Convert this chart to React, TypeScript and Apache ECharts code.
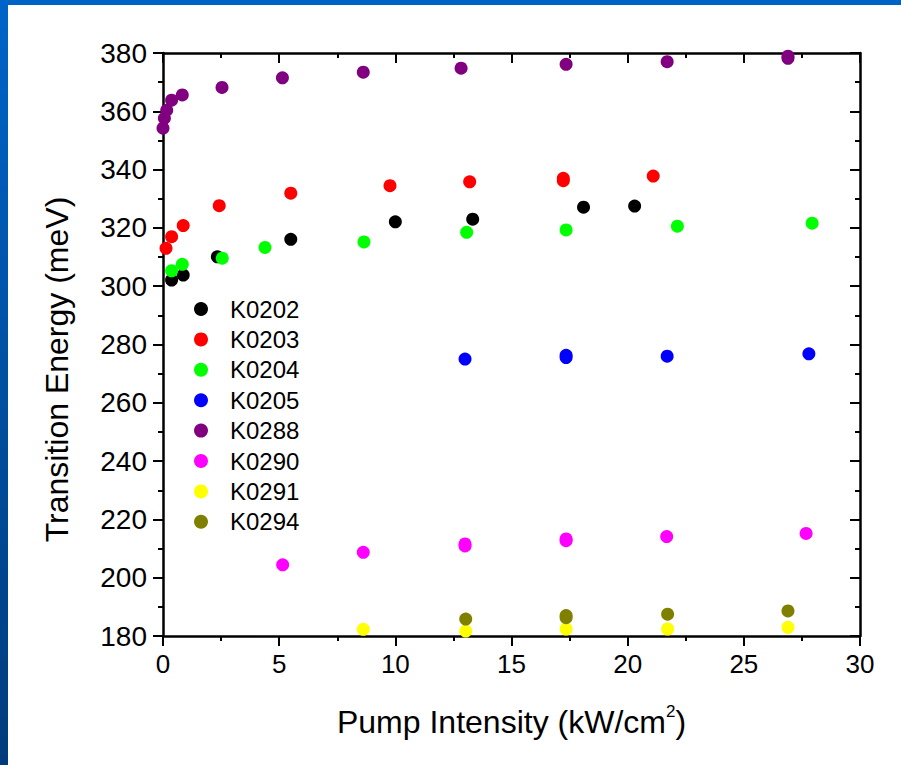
import React, { useEffect, useRef } from "react";
import * as echarts from "echarts";

const seriesNames = ["K0202", "K0203", "K0204", "K0205", "K0288", "K0290", "K0291", "K0294"];
const seriesColors = ["#000000", "#ff0000", "#00ff00", "#0000ff", "#800080", "#ff00ff", "#ffff00", "#808000"];

const k0202 = [[0.37, 302.1], [0.87, 303.8], [2.34, 310.1], [5.5, 316.1], [10.0, 322.1], [13.33, 323.0], [18.1, 327.1], [20.3, 327.5]];
const k0203 = [[0.13, 313.0], [0.37, 317.0], [0.87, 320.8], [2.42, 327.6], [5.5, 331.9], [9.77, 334.5], [13.2, 335.8], [17.23, 336.2], [17.23, 337.0], [21.1, 337.8]];
const k0204 = [[0.37, 305.3], [0.83, 307.5], [2.55, 309.6], [4.39, 313.3], [8.65, 315.2], [13.07, 318.5], [17.35, 319.3], [22.14, 320.6], [27.94, 321.6]];
const k0205 = [[13.0, 275.0], [17.35, 275.5], [17.35, 276.3], [21.7, 276.0], [27.8, 276.8]];
const k0288 = [[0.0, 354.2], [0.06, 357.6], [0.16, 360.4], [0.37, 363.8], [0.83, 365.6], [2.54, 368.2], [5.14, 371.5], [8.62, 373.4], [12.83, 374.8], [17.35, 376.1], [21.7, 377.0], [26.9, 378.2], [26.9, 378.9]];
const k0290 = [[5.15, 204.4], [8.62, 208.7], [13.0, 210.9], [13.0, 211.6], [17.35, 212.7], [17.35, 213.3], [21.68, 214.1], [27.68, 215.2]];
const k0291 = [[8.62, 182.3], [13.03, 181.7], [17.35, 182.4], [21.72, 182.4], [26.9, 183.0]];
const k0294 = [[13.03, 185.8], [17.35, 186.3], [17.35, 187.0], [21.72, 187.5], [26.9, 188.6]];

const allData = [k0202, k0203, k0204, k0205, k0288, k0290, k0291, k0294];

const xMin = 0, xMax = 30, xInterval = 5;
const yMin = 180, yMax = 380, yInterval = 20;

const FONT = "'Liberation Sans', Arial, Helvetica, sans-serif";

export default function App() {
  const ref = useRef<HTMLDivElement>(null);
  useEffect(() => {
    if (!ref.current) return;
    const chart = echarts.init(ref.current, null, { renderer: "svg" });
    const axisLine = { show: true, onZero: false, lineStyle: { color: "#000", width: 2.5 } };
    const tickStyle = { color: "#000", width: 2 };
    chart.setOption({
      animation: false,
      backgroundColor: "#ffffff",
      graphic: [
        { type: "rect", left: 0, top: 0, shape: { x: 0, y: 0, width: 901, height: 5 }, style: { fill: "#0062c4" }, z: 100 },
        {
          type: "rect", left: 0, top: 0, shape: { x: 0, y: 0, width: 8, height: 765 }, z: 100,
          style: { fill: new echarts.graphic.LinearGradient(0, 0, 0, 1, [{ offset: 0, color: "#0064c8" }, { offset: 1, color: "#003c7c" }]) },
        },
      ],
      grid: { left: 163, right: 41, top: 53, bottom: 129, containLabel: false },
      legend: {
        orient: "vertical",
        left: 189,
        top: 292,
        itemWidth: 48,
        itemHeight: 14,
        itemGap: 6.4,
        icon: "circle",
        data: seriesNames,
        textStyle: { fontFamily: FONT, fontSize: 24, color: "#000", lineHeight: 24, padding: [0, 0, 0, 0] },
      },
      xAxis: [
        {
          type: "value", position: "bottom", min: xMin, max: xMax, interval: xInterval,
          axisLine,
          axisTick: { show: true, inside: false, length: 10, lineStyle: tickStyle },
          minorTick: { show: true, splitNumber: 2, length: 5, lineStyle: tickStyle },
          splitLine: { show: false },
          axisLabel: { fontFamily: FONT, fontSize: 26, color: "#000", margin: 15 },
          name: "{a|Pump Intensity (kW/cm}{s|2}{a|)}",
          nameLocation: "middle",
          nameGap: 67,
          nameTextStyle: {
            rich: {
              a: { fontFamily: FONT, fontSize: 32, color: "#000", lineHeight: 37 },
              s: { fontFamily: FONT, fontSize: 17, color: "#000", lineHeight: 17, verticalAlign: "top" },
            },
          },
        },
        {
          type: "value", position: "top", min: xMin, max: xMax, interval: xInterval,
          axisLine,
          axisTick: { show: true, inside: true, length: 10, lineStyle: tickStyle },
          minorTick: { show: true, splitNumber: 2, length: 5, lineStyle: tickStyle },
          splitLine: { show: false },
          axisLabel: { show: false },
        },
      ],
      yAxis: [
        {
          type: "value", position: "left", min: yMin, max: yMax, interval: yInterval,
          axisLine,
          axisTick: { show: true, inside: false, length: 10, lineStyle: tickStyle },
          minorTick: { show: true, splitNumber: 2, length: 5, lineStyle: tickStyle },
          splitLine: { show: false },
          axisLabel: { fontFamily: FONT, fontSize: 28, color: "#000", margin: 16 },
          name: "Transition Energy (meV)",
          nameLocation: "middle",
          nameGap: 90,
          nameTextStyle: { fontFamily: FONT, fontSize: 32, color: "#000", padding: [0, 50, 0, 0] },
        },
        {
          type: "value", position: "right", min: yMin, max: yMax, interval: yInterval,
          axisLine,
          axisTick: { show: true, inside: true, length: 10, lineStyle: tickStyle },
          minorTick: { show: true, splitNumber: 2, length: 5, lineStyle: tickStyle },
          splitLine: { show: false },
          axisLabel: { show: false },
        },
      ],
      series: seriesNames.map((name, i) => ({
        name,
        type: "scatter",
        xAxisIndex: 0,
        yAxisIndex: 0,
        symbol: "circle",
        symbolSize: 13,
        clip: false,
        itemStyle: { color: seriesColors[i], opacity: 1 },
        data: allData[i],
      })),
    });
    return () => chart.dispose();
  }, []);
  return <div ref={ref} style={{ position: "absolute", left: 0, top: 0, width: 901, height: 765 }} />;
}
